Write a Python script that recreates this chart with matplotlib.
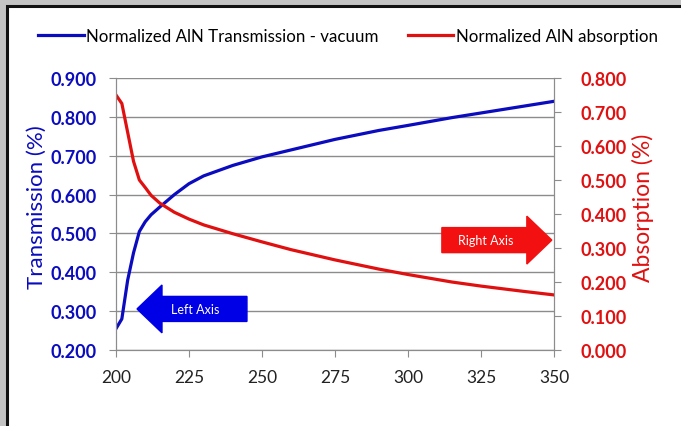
import matplotlib
matplotlib.use("Agg")
import matplotlib.pyplot as plt
import matplotlib.patches as mpatches

plt.rcParams["font.family"] = ["Lato", "DejaVu Sans"]

# Data
wavelength = [200, 202, 204, 206, 208, 210, 212, 215, 220, 225, 230, 240,
              250, 260, 275, 290, 300, 315, 325, 340, 350]
transmission = [0.255, 0.280, 0.380, 0.450, 0.505, 0.530, 0.548, 0.568,
                0.600, 0.628, 0.648, 0.675, 0.697, 0.715, 0.742, 0.765,
                0.778, 0.798, 0.810, 0.828, 0.840]
absorption = [0.750, 0.725, 0.640, 0.555, 0.500, 0.478, 0.455, 0.432,
              0.405, 0.385, 0.368, 0.342, 0.318, 0.295, 0.265, 0.238,
              0.222, 0.200, 0.188, 0.172, 0.162]

left_ticks = [0.2, 0.3, 0.4, 0.5, 0.6, 0.7, 0.8, 0.9]
right_ticks = [0.0, 0.1, 0.2, 0.3, 0.4, 0.5, 0.6, 0.7, 0.8]
x_ticks = [200, 225, 250, 275, 300, 325, 350]

blue = "#0b0bbf"
red = "#e01010"

fig = plt.figure(figsize=(6.81, 4.27), dpi=100)
fig.patch.set_facecolor("#c3c3c3")

# white chart panel with dark frame
panel = mpatches.Rectangle((7 / 681, -0.05), 1.2, 1 - 7 / 427 + 0.05,
                           transform=fig.transFigure, facecolor="white",
                           edgecolor="#111111", linewidth=2.2, zorder=-5)
fig.patches.append(panel)

ax = fig.add_axes([116 / 681, 1 - 351 / 427, 438 / 681, 272 / 427])
ax.set_facecolor("none")
ax2 = ax.twinx()

l1, = ax.plot(wavelength, transmission, color=blue, lw=2.3,
              label="Normalized AlN Transmission - vacuum")
l2, = ax2.plot(wavelength, absorption, color=red, lw=2.3,
               label="Normalized AlN absorption")

ax.set_xlim(200, 350)
ax.set_ylim(0.2, 0.9)
ax2.set_ylim(0.0, 0.8)
ax.set_xticks(x_ticks)
ax.set_yticks(left_ticks)
ax2.set_yticks(right_ticks)
ax.set_yticklabels([f"{v:.3f}" for v in left_ticks])
ax2.set_yticklabels([f"{v:.3f}" for v in right_ticks])

ax.grid(axis="y", color="#8c8c8c", lw=1)
ax.set_axisbelow(True)

for a in (ax, ax2):
    a.spines["top"].set_visible(False)
    for side in ("left", "right", "bottom"):
        a.spines[side].set_color("#8c8c8c")
ax.tick_params(axis="y", colors="#8c8c8c", labelcolor=blue, length=5,
               labelsize=13, pad=9)
ax.tick_params(axis="x", colors="#8c8c8c", labelcolor="#222222", length=5,
               labelsize=12.5, pad=9)
ax2.tick_params(axis="y", colors="#8c8c8c", labelcolor=red, length=5,
                labelsize=13, pad=14)
for lab in ax.get_yticklabels():
    lab.set_fontweight("bold")
for lab in ax2.get_yticklabels():
    lab.set_fontweight("bold")

# axis titles
fig.text(37 / 681, 1 - 207 / 427, "Transmission (%)", color=blue,
         fontsize=16, rotation=90, ha="center", va="center")
fig.text(643 / 681, 1 - 208 / 427, "Absorption (%)", color=red,
         fontsize=16.5, rotation=90, ha="center", va="center")

# annotation arrows
ax.add_patch(mpatches.FancyArrow(0.299, 0.151, -0.251, 0, width=0.092,
                                 head_width=0.176, head_length=0.057,
                                 length_includes_head=True, color="#0000e6",
                                 transform=ax.transAxes, clip_on=False,
                                 zorder=5))
ax.text(0.18, 0.151, "Left Axis", color="white", fontsize=9,
        ha="center", va="center", transform=ax.transAxes, zorder=6)
ax.add_patch(mpatches.FancyArrow(0.744, 0.404, 0.251, 0, width=0.092,
                                 head_width=0.176, head_length=0.057,
                                 length_includes_head=True, color="#f21010",
                                 transform=ax.transAxes, clip_on=False,
                                 zorder=5))
ax.text(0.845, 0.404, "Right Axis", color="white", fontsize=9,
        ha="center", va="center", transform=ax.transAxes, zorder=6)

fig.legend([l1, l2], [l1.get_label(), l2.get_label()], loc="center",
           bbox_to_anchor=(348 / 681, 1 - 37 / 427), ncol=2, frameon=False,
           fontsize=12.2, handlelength=2.7, handletextpad=0.15,
           columnspacing=1.7)

fig.savefig("out.png", dpi=100, facecolor=fig.get_facecolor())
